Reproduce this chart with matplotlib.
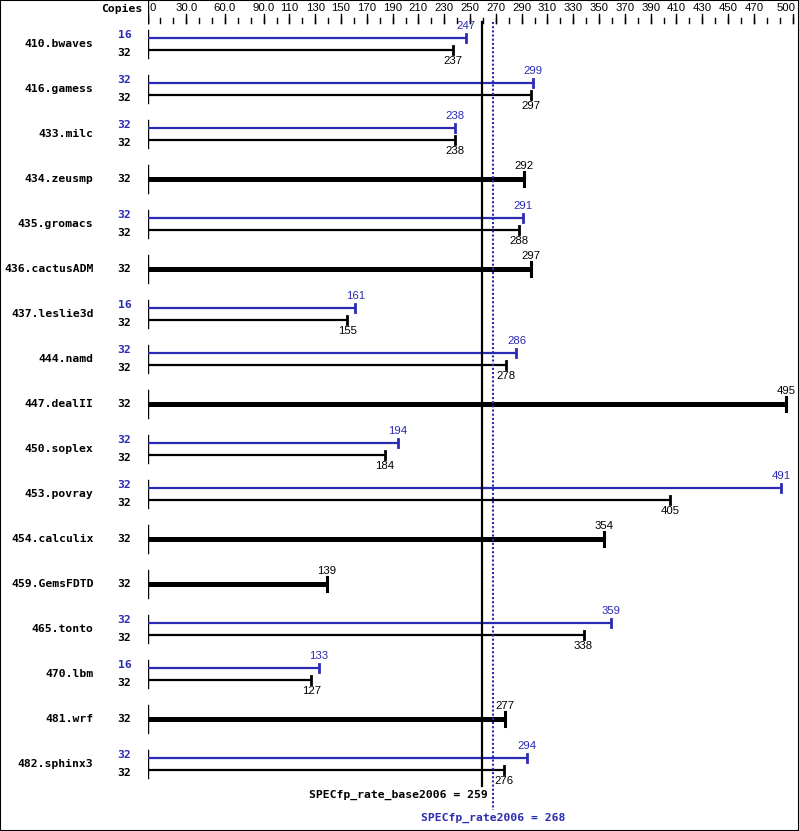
import matplotlib
matplotlib.use("Agg")
import matplotlib.pyplot as plt
from matplotlib.patches import Rectangle

# SPECfp_rate2006 results, one row per benchmark
benchmarks = ["410.bwaves", "416.gamess", "433.milc", "434.zeusmp", "435.gromacs",
              "436.cactusADM", "437.leslie3d", "444.namd", "447.dealII", "450.soplex",
              "453.povray", "454.calculix", "459.GemsFDTD", "465.tonto", "470.lbm",
              "481.wrf", "482.sphinx3"]
base_copies = [32, 32, 32, 32, 32, 32, 32, 32, 32, 32, 32, 32, 32, 32, 32, 32, 32]
base_ratio = [237, 297, 238, 292, 288, 297, 155, 278, 495, 184, 405, 354, 139, 338, 127, 277, 276]
# None -> peak is the same as base (single thick bar)
peak_copies = [16, 32, 32, None, 32, None, 16, 32, None, 32, 32, None, None, 32, 16, None, 32]
peak_ratio = [247, 299, 238, None, 291, None, 161, 286, None, 194, 491, None, None, 359, 133, None, 294]
base_mean = 259
peak_mean = 268
axis_labels = [0, 30, 60, 90, 110, 130, 150, 170, 190, 210, 230, 250, 270, 290, 310,
               330, 350, 370, 390, 410, 430, 450, 470, 500]
minor_ticks = list(range(0, 501, 10))

BLUE = "#2b2bb3"
W, H = 799, 831
X0 = 147.5      # pixel of value 0
SCALE = 1.29    # pixels per unit
ROW0, ROWH = 44, 45

def pt(px):
    return px * 72.0 / 100.0

def ry(px):
    return (px - ROW0) / ROWH

mono = dict(family="DejaVu Sans Mono", weight="bold", size=8.2)
sans = dict(family="Liberation Sans", size=8.2)

fig = plt.figure(figsize=(W / 100, H / 100), dpi=100)
fig.patches.append(Rectangle((0, 0), 1, 1, transform=fig.transFigure, fill=False,
                             edgecolor="black", linewidth=1.5, zorder=10))
ax = fig.add_axes([X0 / W, 0, 1 - X0 / W, 1])
ax.set_xlim(0, (W - X0) / SCALE)
ax.set_ylim((H - ROW0) / ROWH, -ROW0 / ROWH)
ax.axis("off")

# top scale
ax.plot([0, 0], [ry(0), ry(23)], color="black", lw=1)
for t in minor_ticks:
    ax.plot([t, t], [ry(18), ry(23)], color="black", lw=1)
for t in axis_labels:
    ax.plot([t, t], [ry(14), ry(23)], color="black", lw=1)
    if t == 0:
        ax.annotate("0", (t, ry(8)), xytext=(pt(2), 0), textcoords="offset points",
                    ha="left", va="center", **sans)
    elif t == axis_labels[-1]:
        ax.annotate(str(t), (t, ry(8)), xytext=(pt(3), 0), textcoords="offset points",
                    ha="right", va="center", **sans)
    else:
        txt = f"{t:.1f}" if t < 100 else str(t)
        ax.text(t, ry(8), txt, ha="center", va="center", **sans)
ax.annotate("Copies", (0, ry(9)), xytext=(pt(-5), 0), textcoords="offset points",
            ha="right", va="center", **mono)

dy = 6 / ROWH
for i, name in enumerate(benchmarks):
    ax.plot([0, 0], [i - 14 / ROWH, i + 14 / ROWH], color="black", lw=1)
    ax.annotate(name, (0, i), xytext=(pt(-54), 0), textcoords="offset points",
                ha="right", va="center", **mono)
    if peak_ratio[i] is None:
        v = base_ratio[i]
        ax.plot([0, v], [i, i], color="black", lw=3.6, solid_capstyle="butt")
        ax.plot([v, v], [i - 7 / ROWH, i + 7 / ROWH], color="black", lw=2.2)
        ax.text(v, i - 13 / ROWH, str(v), ha="center", va="center", **sans)
        ax.annotate(str(base_copies[i]), (0, i), xytext=(pt(-16), 0),
                    textcoords="offset points", ha="right", va="center", **mono)
    else:
        p = peak_ratio[i]
        b = base_ratio[i]
        ax.plot([0, p], [i - dy, i - dy], color=BLUE, lw=1.6, solid_capstyle="butt")
        ax.plot([p, p], [i - dy - 4 / ROWH, i - dy + 4 / ROWH], color=BLUE, lw=2)
        ax.text(p, i - dy - 12 / ROWH, str(p), ha="center", va="center",
                color=BLUE, **sans)
        ax.plot([0, b], [i + dy, i + dy], color="black", lw=1.6, solid_capstyle="butt")
        ax.plot([b, b], [i + dy - 4 / ROWH, i + dy + 4 / ROWH], color="black", lw=2)
        ax.text(b, i + dy + 11 / ROWH, str(b), ha="center", va="center", **sans)
        ax.annotate(str(peak_copies[i]), (0, i - dy - 3 / ROWH), xytext=(pt(-16), 0),
                    textcoords="offset points", ha="right", va="center",
                    color=BLUE, **mono)
        ax.annotate(str(base_copies[i]), (0, i + dy + 3 / ROWH), xytext=(pt(-16), 0),
                    textcoords="offset points", ha="right", va="center", **mono)

# mean lines
ax.plot([base_mean, base_mean], [ry(22), ry(786)], color="black", lw=1.6)
ax.plot([peak_mean, peak_mean], [ry(22), ry(810)], color=BLUE, lw=1.5,
        linestyle=(0, (1, 1)))
ax.annotate(f"SPECfp_rate_base2006 = {base_mean}", (base_mean, ry(795)),
            xytext=(pt(6), 0), textcoords="offset points",
            ha="right", va="center", **mono)
ax.text(peak_mean, ry(818), f"SPECfp_rate2006 = {peak_mean}", ha="center",
        va="center", color=BLUE, **mono)

fig.savefig("out.png", dpi=100)
